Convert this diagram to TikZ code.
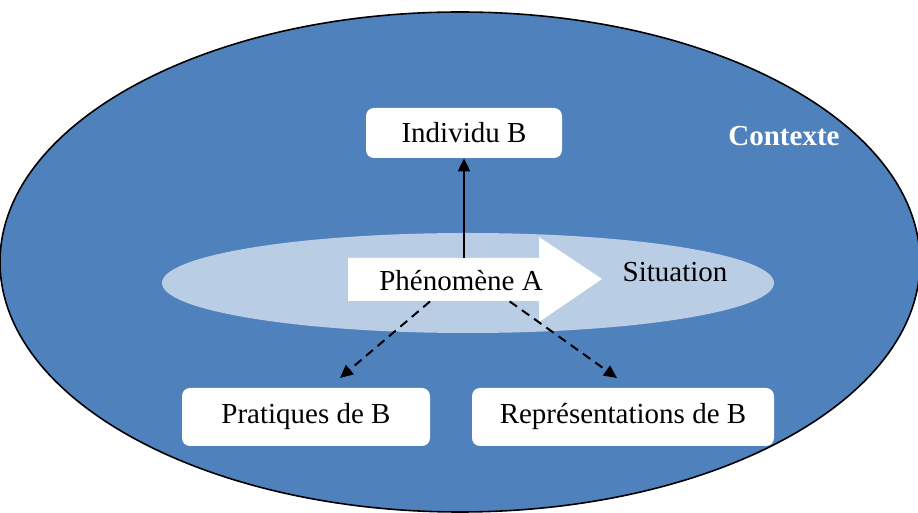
\documentclass[tikz,border=0pt]{standalone}
\usepackage{fontspec}
\setmainfont{Liberation Serif}
\usetikzlibrary{arrows.meta,calc}
\definecolor{ctx}{HTML}{4F81BD}
\definecolor{sit}{HTML}{B9CDE5}
\tikzset{
  box/.style={draw=none, fill=white, rounded corners=4pt, inner sep=0pt, font=\fontsize{14.5}{17}\selectfont},
  lbl/.style={inner sep=0pt, font=\fontsize{14.5}{17}\selectfont},
  conn/.style={line width=1pt, -{Triangle[length=6.5pt,width=6pt]}},
}
\begin{document}
\begin{tikzpicture}[x=0.5pt,y=-0.5pt]
\useasboundingbox (0,0) rectangle (918,513);
% context ellipse
\draw[fill=ctx, line width=0.8pt] (460,262) ellipse [x radius=230pt, y radius=125pt];
% situation ellipse
\fill[sit] (468,283) ellipse [x radius=153pt, y radius=25pt];
% block arrow
\fill[white] (348,258) -- (539,258) -- (539,237) -- (602,279) -- (539,322) -- (539,301) -- (348,301) -- cycle;
\node[inner sep=0pt, minimum width=95.5pt, minimum height=21.5pt] (phen) at (443.5,279.5) {};
\node[lbl] (phentxt) at (461,281) {Phénomène A};
\node[lbl] (situ) at (675,272) {Situation};
\node[lbl, text=white, font=\fontsize{14.5}{17}\selectfont\bfseries] (ctxt) at (784,136) {Contexte};
% boxes
\node[box, minimum width=98pt, minimum height=25pt] (indiv) at (464,133) {Individu B};
\node[box, minimum width=124pt, minimum height=29pt] (prat) at (306,417) {Pratiques de B};
\node[box, minimum width=151pt, minimum height=29pt] (repr) at (623,417) {Représentations de B};
% connectors
\draw[conn] (phen.north -| indiv.south) -- (indiv.south);
\coordinate (s1) at ($(phen.south west)!0.43!(phen.south east)$);
\coordinate (e1) at (340,378);
\coordinate (s2) at ($(phen.south west)!0.845!(phen.south east)$);
\coordinate (e2) at (617,378);
\draw[conn, dash pattern=on 4.5pt off 3pt] (s1) -- (e1);
\draw[conn, dash pattern=on 4.5pt off 3pt] (s2) -- (e2);
\end{tikzpicture}
\end{document}
